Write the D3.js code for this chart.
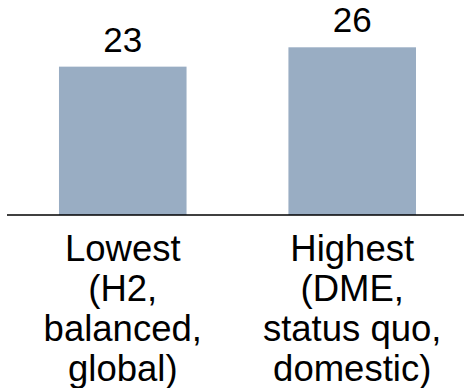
<!DOCTYPE html>
<html>
<head>
<meta charset="utf-8">
<script src="https://cdn.jsdelivr.net/npm/d3@7"></script>
<style>
  html, body { margin: 0; padding: 0; background: #fff; }
  svg { display: block; }
  text { font-family: "Liberation Sans", Arial, sans-serif; fill: #000; }
</style>
</head>
<body>
<svg id="chart" width="464" height="388"></svg>
<script>
// Scenario extremes
const categories = ["Lowest", "Highest"];
const categoryLines = [
  ["Lowest", "(H2,", "balanced,", "global)"],
  ["Highest", "(DME,", "status quo,", "domestic)"]
];
const values = [23, 26];

const W = 464, H = 388;
const baseY = 215;
const svg = d3.select("#chart");

const x = d3.scaleBand()
  .domain(categories)
  .range([8, 464])
  .paddingInner(0.444)
  .paddingOuter(0.2157)
  .align(0.515);

const y = d3.scaleLinear()
  .domain([0, 30])
  .range([baseY, baseY - 30 * 6.45]);

// bars
svg.selectAll("rect.bar")
  .data(values)
  .join("rect")
  .attr("class", "bar")
  .attr("x", (d, i) => x(categories[i]))
  .attr("width", x.bandwidth())
  .attr("y", d => y(d))
  .attr("height", d => y(0) - y(d))
  .attr("fill", "#99adc3");

// value labels
svg.selectAll("text.val")
  .data(values)
  .join("text")
  .attr("class", "val")
  .attr("x", (d, i) => x(categories[i]) + x.bandwidth() / 2)
  .attr("y", d => y(d) - 15)
  .attr("text-anchor", "middle")
  .attr("font-size", 35)
  .text(d => d);

// baseline
svg.append("line")
  .attr("x1", 7).attr("x2", W)
  .attr("y1", baseY).attr("y2", baseY)
  .attr("stroke", "#000")
  .attr("stroke-width", 1.5);

// category labels
const lineGap = 40;
categoryLines.forEach((lines, i) => {
  const cx = x(categories[i]) + x.bandwidth() / 2;
  const t = svg.append("text")
    .attr("text-anchor", "middle")
    .attr("font-size", 36.5)
    .attr("x", cx)
    .attr("y", 261);
  lines.forEach((ln, j) => {
    t.append("tspan")
      .attr("x", cx)
      .attr("dy", j === 0 ? 0 : lineGap)
      .text(ln);
  });
});
</script>
</body>
</html>
